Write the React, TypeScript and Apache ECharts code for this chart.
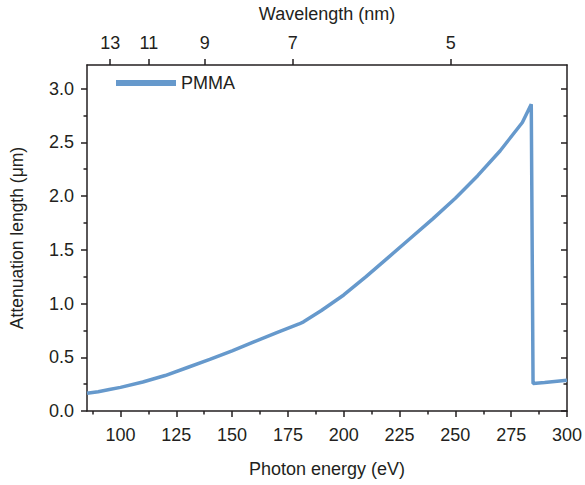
import React, { useEffect, useRef } from "react";
import * as echarts from "echarts";

// Photon energy (eV)
const energy = [85, 90, 95, 100, 110, 120, 130, 140, 150, 160, 170, 180, 182, 190, 200, 210, 220, 230, 240, 250, 260, 270, 280, 284, 284.8, 290, 300];
// Attenuation length (µm)
const attenuation = [0.165, 0.18, 0.2, 0.22, 0.27, 0.33, 0.405, 0.48, 0.56, 0.645, 0.73, 0.81, 0.83, 0.935, 1.08, 1.25, 1.43, 1.61, 1.79, 1.98, 2.19, 2.42, 2.685, 2.855, 0.256, 0.266, 0.287];

const energyTicks = [100, 125, 150, 175, 200, 225, 250, 275, 300];
const energyMinorTicks = [87.5, 112.5, 137.5, 162.5, 187.5, 212.5, 237.5, 262.5, 287.5];
const wavelengthTicks = [13, 11, 9, 7, 5];
const attenuationTicks = [0, 0.5, 1, 1.5, 2, 2.5, 3];
const attenuationMinorTicks = [0.25, 0.75, 1.25, 1.75, 2.25, 2.75];
const HC = 1239.84;

const X_MIN = 85;
const X_MAX = 300;
const Y_MIN = 0;
const Y_MAX = 3.22;

const TEXT = "#231f20";
const LINE = "#231f20";
const FONT = "'Liberation Sans', Arial, Helvetica, sans-serif";

export default function App() {
  const ref = useRef<HTMLDivElement>(null);
  useEffect(() => {
    if (!ref.current) return;
    const chart = echarts.init(ref.current, undefined, { renderer: "svg" });
    const wlE = wavelengthTicks.map((w) => HC / w);
    const axisLineStyle = { color: LINE, width: 1.5 };
    const tickStyle = { color: LINE, width: 1.5 };
    const yBase = (position: string, inside: boolean, ticks: number[], len: number, showLine: boolean) => ({
      type: "value",
      position,
      min: Y_MIN,
      max: Y_MAX,
      axisLine: { show: showLine, onZero: false, lineStyle: axisLineStyle },
      axisTick: { show: true, inside, length: len, customValues: ticks, lineStyle: tickStyle },
      axisLabel: { show: false },
      splitLine: { show: false },
    });
    chart.setOption({
      animation: false,
      textStyle: { fontFamily: FONT, color: TEXT },
      grid: { left: 87, right: 17, top: 63, bottom: 74 },
      legend: {
        show: true,
        left: 111,
        top: 69,
        itemWidth: 60,
        itemHeight: 14,
        itemGap: 6,
        textStyle: { fontSize: 18, color: TEXT, fontFamily: FONT },
        data: [{ name: "PMMA", icon: "path://M0,0 L10,0 L10,1 L0,1 Z" }],
      },
      xAxis: [
        {
          type: "value",
          position: "bottom",
          min: X_MIN,
          max: X_MAX,
          name: "Photon energy (eV)",
          nameLocation: "middle",
          nameGap: 49,
          nameTextStyle: { fontSize: 18, color: TEXT, fontFamily: FONT },
          axisLine: { show: true, onZero: false, lineStyle: axisLineStyle },
          axisTick: { show: true, length: 6, customValues: energyTicks, lineStyle: tickStyle },
          axisLabel: { show: true, customValues: energyTicks, fontSize: 18, color: TEXT, margin: 15, fontFamily: FONT },
          splitLine: { show: false },
        },
        {
          type: "value",
          position: "bottom",
          min: X_MIN,
          max: X_MAX,
          axisLine: { show: false, onZero: false },
          axisTick: { show: true, length: 3.5, customValues: energyMinorTicks, lineStyle: tickStyle },
          axisLabel: { show: false },
          splitLine: { show: false },
        },
        {
          type: "value",
          position: "top",
          min: X_MIN,
          max: X_MAX,
          name: "Wavelength (nm)",
          nameLocation: "middle",
          nameGap: 42,
          nameTextStyle: { fontSize: 18, color: TEXT, fontFamily: FONT },
          axisLine: { show: true, onZero: false, lineStyle: axisLineStyle },
          axisTick: { show: true, length: 6, customValues: wlE, lineStyle: tickStyle },
          axisLabel: {
            show: true,
            customValues: wlE,
            fontSize: 18,
            color: TEXT,
            margin: 13,
            fontFamily: FONT,
            formatter: (v: number) => String(Math.round(HC / v)),
          },
          splitLine: { show: false },
        },
      ],
      yAxis: [
        {
          type: "value",
          position: "left",
          min: Y_MIN,
          max: Y_MAX,
          name: "Attenuation length (\u03bcm)",
          nameLocation: "middle",
          nameGap: 61,
          nameRotate: 90,
          nameTextStyle: { fontSize: 17.5, color: TEXT, fontFamily: FONT },
          axisLine: { show: true, onZero: false, lineStyle: axisLineStyle },
          axisTick: { show: true, length: 6, customValues: attenuationTicks, lineStyle: tickStyle },
          axisLabel: {
            show: true,
            customValues: attenuationTicks,
            fontSize: 18,
            color: TEXT,
            margin: 13,
            fontFamily: FONT,
            formatter: (v: number) => v.toFixed(1),
          },
          splitLine: { show: false },
        },
        yBase("right", true, attenuationTicks, 6, true),
        yBase("left", false, attenuationMinorTicks, 3.5, false),
        yBase("right", true, attenuationMinorTicks, 3.5, false),
      ],
      series: [
        {
          name: "PMMA",
          type: "line",
          xAxisIndex: 0,
          yAxisIndex: 0,
          showSymbol: false,
          symbol: "none",
          smooth: false,
          lineStyle: { color: "#6699cc", width: 3.5 },
          itemStyle: { color: "#6699cc" },
          data: energy.map((e, i) => [e, attenuation[i]]),
        },
      ],
    });
    return () => chart.dispose();
  }, []);
  return (
    <div
      ref={ref}
      style={{ position: "fixed", left: 0, top: 0, width: 585, height: 485, background: "#fff" }}
    />
  );
}
